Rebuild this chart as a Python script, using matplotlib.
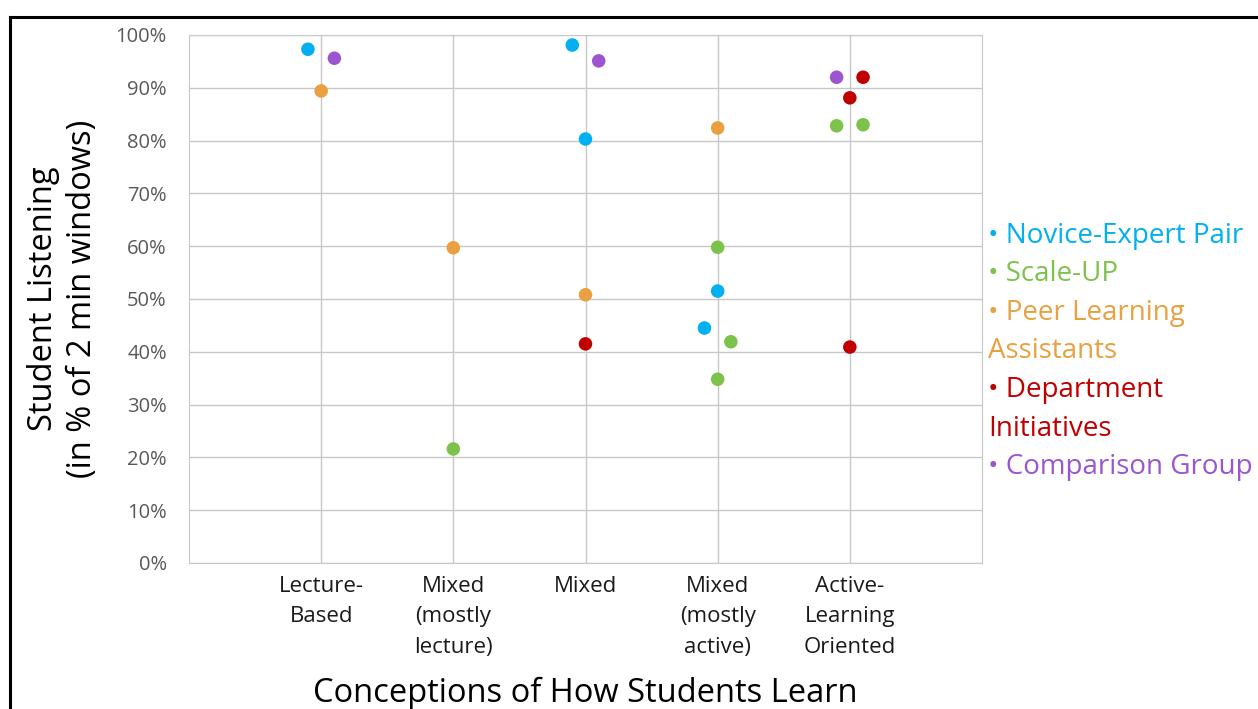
import matplotlib.pyplot as plt
from matplotlib.lines import Line2D

plt.rcParams['font.family'] = ['Open Sans', 'DejaVu Sans']

categories = ['Lecture-\nBased', 'Mixed\n(mostly\nlecture)', 'Mixed',
              'Mixed\n(mostly\nactive)', 'Active-\nLearning\nOriented']

# (category index, side offset slot, % listening)
novice_cat = [0, 2, 2, 3, 3]
novice_side = [-1, -1, 0, 0, -1]
novice_val = [97.3, 98.1, 80.3, 51.5, 44.5]

scaleup_cat = [1, 3, 3, 3, 4, 4]
scaleup_side = [0, 0, 1, 0, -1, 1]
scaleup_val = [21.6, 59.8, 41.9, 34.8, 82.8, 83.0]

peer_cat = [0, 1, 2, 3]
peer_side = [0, 0, 0, 0]
peer_val = [89.4, 59.7, 50.8, 82.4]

dept_cat = [2, 4, 4, 4]
dept_side = [0, 1, 0, 0]
dept_val = [41.5, 92.0, 88.1, 40.9]

comp_cat = [0, 2, 4]
comp_side = [1, 1, -1]
comp_val = [95.6, 95.1, 92.0]

series = [
    ('Novice-Expert Pair', None, novice_cat, novice_side, novice_val, '#00B0F0'),
    ('Scale-UP', None, scaleup_cat, scaleup_side, scaleup_val, '#7DC24B'),
    ('Peer Learning', 'Assistants', peer_cat, peer_side, peer_val, '#E8A040'),
    ('Department', 'Initiatives', dept_cat, dept_side, dept_val, '#C00000'),
    ('Comparison Group', None, comp_cat, comp_side, comp_val, '#9B55D0'),
]

fig = plt.figure(figsize=(12.58, 7.09), dpi=100)
ax = fig.add_axes([189/1258, 1-563/709, 793/1258, 528/709])

step = 0.1
for name, name2, cats, sides, vals, col in series:
    xs = [c + 1 + s*step for c, s in zip(cats, sides)]
    ax.scatter(xs, vals, s=95, color=col, edgecolors='none', zorder=3)

ax.set_xlim(0, 6)
ax.set_ylim(0, 100)
ax.set_yticks(range(0, 101, 10))
ax.set_yticklabels([f'{v}%' for v in range(0, 101, 10)], fontsize=14.5, color='#595959')
ax.set_xticks(range(1, 6))
ax.set_xticklabels(categories, fontsize=16, color='#1a1a1a', linespacing=1.6)
ax.tick_params(axis='x', length=0, pad=9)
ax.tick_params(axis='y', length=0, pad=16)
ax.grid(True, color='#C8C8C8', linewidth=1)
ax.set_axisbelow(True)
for sp in ax.spines.values():
    sp.set_color('#C8C8C8')
ax.set_xlabel('Conceptions of How Students Learn', fontsize=23.5, labelpad=14)
ax.set_ylabel('Student Listening\n(in % of 2 min windows)', fontsize=23.5,
              labelpad=12, linespacing=1.25)

# legend as coloured text lines
y = 1 - 236/709
dy = 38.5/709
for name, name2, cats, sides, vals, col in series:
    fig.text(988/1258, y, '\u2022 ' + name, color=col, fontsize=20, va='center')
    y -= dy
    if name2:
        fig.text(988/1258, y, name2, color=col, fontsize=20, va='center')
        y -= dy

# frame around the picture
fig.add_artist(Line2D([10/1258, 1.0], [1-17/709, 1-17/709], color='black', lw=2.2))
fig.add_artist(Line2D([10/1258, 10/1258], [0, 1-17/709], color='black', lw=2.2))

fig.savefig('out.png', dpi=100)
